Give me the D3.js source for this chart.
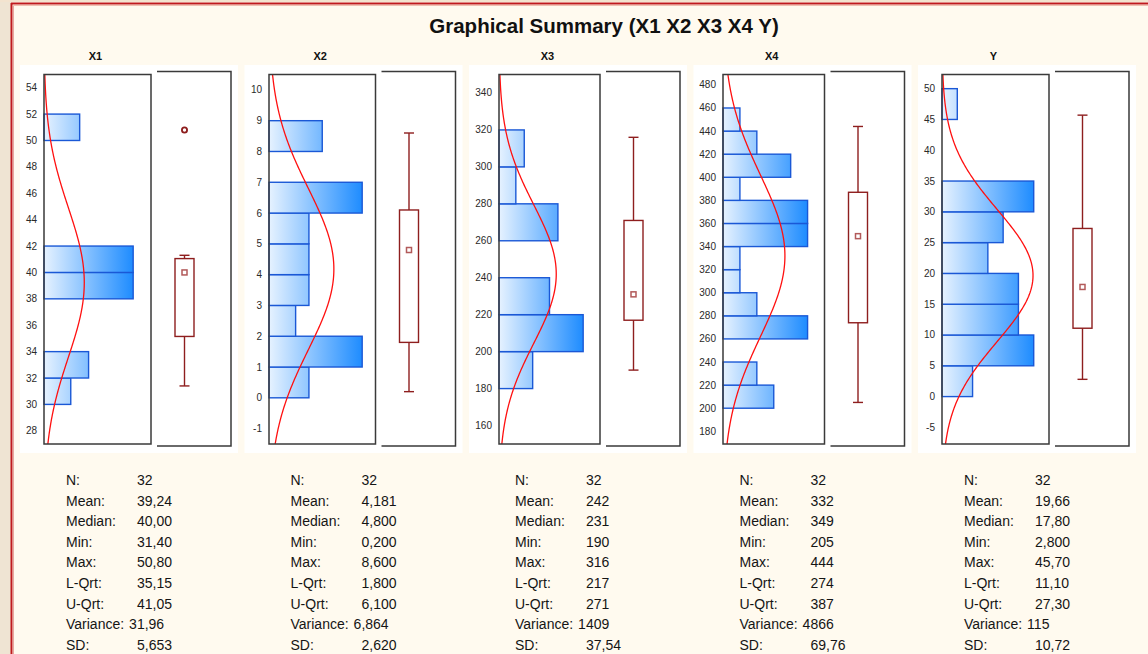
<!DOCTYPE html>
<html>
<head>
<meta charset="utf-8">
<script src="https://cdn.jsdelivr.net/npm/d3@7"></script>
<style>
  body { margin: 0; background: #fffaef; }
  svg { display: block; font-family: "Liberation Sans", Arial, sans-serif; }
  .ticklabel { font-size: 10px; fill: #2a2a2a; }
  .paneltitle { font-size: 11px; font-weight: bold; fill: #111; }
  .stat { font-size: 14px; fill: #151515; }
</style>
</head>
<body>
<svg class="summarysvg" width="1148" height="654"></svg>
<script>
// data
var variables = ["X1", "X2", "X3", "X4", "Y"];

var binWidths = [2, 1, 20, 20, 5];
var binStartsX1 = [30, 32, 38, 40, 50];
var binCountsX1 = [3, 5, 10, 10, 4];
var binStartsX2 = [0, 1, 2, 3, 4, 5, 6, 8];
var binCountsX2 = [3, 7, 2, 3, 3, 3, 7, 4];
var binStartsX3 = [180, 200, 220, 260, 280, 300];
var binCountsX3 = [4, 10, 6, 7, 2, 3];
var binStartsX4 = [200, 220, 260, 280, 300, 320, 340, 360, 380, 400, 420, 440];
var binCountsX4 = [3, 2, 5, 2, 1, 1, 5, 5, 1, 4, 2, 1];
var binStartsY = [0, 5, 10, 15, 20, 25, 30, 45];
var binCountsY = [2, 6, 5, 5, 3, 4, 6, 1];

var yDomains = [[27, 55], [-1.5, 10.5], [150, 350], [169, 489], [-7.7, 52.3]];
var ticksX1 = [28, 30, 32, 34, 36, 38, 40, 42, 44, 46, 48, 50, 52, 54];
var ticksX2 = [-1, 0, 1, 2, 3, 4, 5, 6, 7, 8, 9, 10];
var ticksX3 = [160, 180, 200, 220, 240, 260, 280, 300, 320, 340];
var ticksX4 = [180, 200, 220, 240, 260, 280, 300, 320, 340, 360, 380, 400, 420, 440, 460, 480];
var ticksY = [-5, 0, 5, 10, 15, 20, 25, 30, 35, 40, 45, 50];

var counts = [32, 32, 32, 32, 32];
var means = [39.24, 4.181, 242, 332, 19.66];
var sds = [5.653, 2.620, 37.54, 69.76, 10.72];
var medians = [40.00, 4.800, 231, 349, 17.80];
var lowerQrt = [35.15, 1.800, 217, 274, 11.10];
var upperQrt = [41.05, 6.100, 271, 387, 27.30];
var whiskerLow = [31.40, 0.200, 190, 205, 2.800];
var whiskerHigh = [41.30, 8.600, 316, 444, 45.70];
var outliers = [[50.8], [], [], [], []];

var statLabels = ["N:", "Mean:", "Median:", "Min:", "Max:", "L-Qrt:", "U-Qrt:", "Variance:", "SD:"];
var statsX1 = ["32", "39,24", "40,00", "31,40", "50,80", "35,15", "41,05", "31,96", "5,653"];
var statsX2 = ["32", "4,181", "4,800", "0,200", "8,600", "1,800", "6,100", "6,864", "2,620"];
var statsX3 = ["32", "242", "231", "190", "316", "217", "271", "1409", "37,54"];
var statsX4 = ["32", "332", "349", "205", "444", "274", "387", "4866", "69,76"];
var statsY = ["32", "19,66", "17,80", "2,800", "45,70", "11,10", "27,30", "115", "10,72"];

var binStarts = [binStartsX1, binStartsX2, binStartsX3, binStartsX4, binStartsY];
var binCounts = [binCountsX1, binCountsX2, binCountsX3, binCountsX4, binCountsY];
var tickValues = [ticksX1, ticksX2, ticksX3, ticksX4, ticksY];
var statValues = [statsX1, statsX2, statsX3, statsX4, statsY];

var svg = d3.select(".summarysvg");
var defs = svg.append("defs");

function addframe()
{
	// textured strip and double red border
	svg.append("rect").attr("x", 0).attr("y", 0).attr("width", 11).attr("height", 654).attr("fill", "#efe4d3");
	svg.append("rect").attr("x", 0).attr("y", 0).attr("width", 1148).attr("height", 2).attr("fill", "#f3e3cf");
	svg.append("line").attr("x1", 11.5).attr("y1", 3).attr("x2", 11.5).attr("y2", 654)
	   .attr("stroke", "#c01a1e").attr("stroke-width", 2);
	svg.append("line").attr("x1", 11).attr("y1", 3.5).attr("x2", 1148).attr("y2", 3.5)
	   .attr("stroke", "#c01a1e").attr("stroke-width", 2);
	svg.append("line").attr("x1", 13.5).attr("y1", 5).attr("x2", 13.5).attr("y2", 654)
	   .attr("stroke", "#e8a8a0").attr("stroke-width", 1);
	svg.append("line").attr("x1", 13).attr("y1", 5.5).attr("x2", 1148).attr("y2", 5.5)
	   .attr("stroke", "#f0c0b0").attr("stroke-width", 1);

	svg.append("text")
	   .attr("x", 604)
	   .attr("y", 33)
	   .style("text-anchor", "middle")
	   .style("font-size", "20.5px")
	   .style("font-weight", "bold")
	   .attr("fill", "#111")
	   .text("Graphical Summary (X1 X2 X3 X4 Y)");
}

function addpanel(i)
{
	var x0 = 20 + i * 224.5;
	var top = 74.5, bottom = 444;
	var g = svg.append("g").attr("class", "panel");

	g.append("rect")
	   .attr("x", x0).attr("y", 65)
	   .attr("width", 218).attr("height", 388)
	   .attr("fill", "#ffffff");

	var y = d3.scaleLinear().domain(yDomains[i]).range([bottom, top]);

	// tick labels, right aligned; histogram frame starts after the widest
	var ticks = g.append("g");
	ticks.selectAll("text")
	   .data(tickValues[i])
	   .enter().append("text")
	   .attr("class", "ticklabel")
	   .attr("y", function(d) { return y(d); })
	   .attr("dy", "0.35em")
	   .style("text-anchor", "end")
	   .text(function(d) { return d; });
	var widest = 0;
	ticks.selectAll("text").each(function() { widest = Math.max(widest, this.getComputedTextLength()); });
	var left = Math.round(x0 + 13 + widest);
	var right = x0 + 131;
	ticks.selectAll("text").attr("x", left - 7);

	g.append("text")
	   .attr("class", "paneltitle")
	   .attr("x", (left + right) / 2 - 2)
	   .attr("y", 60)
	   .style("text-anchor", "middle")
	   .text(variables[i]);

	var maxCount = d3.max(binCounts[i]);
	var x = d3.scaleLinear().domain([0, maxCount * 1.1]).nice(5).range([left, right]);

	var grad = defs.append("linearGradient")
	   .attr("id", "bargrad" + i)
	   .attr("gradientUnits", "userSpaceOnUse")
	   .attr("x1", left).attr("y1", 0)
	   .attr("x2", x(maxCount)).attr("y2", 0);
	grad.append("stop").attr("offset", "0%").attr("stop-color", "#e6f2ff");
	grad.append("stop").attr("offset", "100%").attr("stop-color", "#1e8cff");

	var w = binWidths[i];
	g.selectAll(".bar")
	   .data(binStarts[i].map(function(s, k) { return {start: s, count: binCounts[i][k]}; }))
	   .enter().append("rect")
	   .attr("class", "bar")
	   .attr("x", left)
	   .attr("y", function(d) { return y(d.start + w); })
	   .attr("width", function(d) { return x(d.count) - left; })
	   .attr("height", function(d) { return y(d.start) - y(d.start + w); })
	   .attr("fill", "url(#bargrad" + i + ")")
	   .attr("stroke", "#1a58d6")
	   .attr("stroke-width", 1.4);

	// fitted normal curve, in count-per-bin units
	var n = counts[i], m = means[i], s = sds[i];
	var pts = d3.range(0, 201).map(function(k) {
		var v = yDomains[i][0] + (yDomains[i][1] - yDomains[i][0]) * k / 200;
		var z = (v - m) / s;
		return [v, n * w * Math.exp(-0.5 * z * z) / (s * Math.sqrt(2 * Math.PI))];
	});
	g.append("path")
	   .datum(pts)
	   .attr("fill", "none")
	   .attr("stroke", "#ff1010")
	   .attr("stroke-width", 1.3)
	   .attr("d", d3.line().x(function(d) { return x(d[1]); }).y(function(d) { return y(d[0]); }));

	g.append("rect")
	   .attr("x", left).attr("y", top)
	   .attr("width", right - left).attr("height", bottom - top)
	   .attr("fill", "none")
	   .attr("stroke", "#3a3a3a")
	   .attr("stroke-width", 1.5);

	// box plot frame: top, right, bottom only
	var bl = x0 + 137, br = x0 + 211;
	g.append("path")
	   .attr("d", "M" + bl + ",71.5H" + br + "V446H" + bl)
	   .attr("fill", "none")
	   .attr("stroke", "#3a3a3a")
	   .attr("stroke-width", 1.5);

	var cx = bl + 27.5;
	var boxcol = "#8e1e1e";
	g.append("line")
	   .attr("x1", cx).attr("x2", cx)
	   .attr("y1", y(whiskerLow[i])).attr("y2", y(whiskerHigh[i]))
	   .attr("stroke", boxcol).attr("stroke-width", 1.4);
	[whiskerLow[i], whiskerHigh[i]].forEach(function(v) {
		g.append("line")
		   .attr("x1", cx - 5).attr("x2", cx + 5)
		   .attr("y1", y(v)).attr("y2", y(v))
		   .attr("stroke", boxcol).attr("stroke-width", 1.4);
	});
	g.append("rect")
	   .attr("x", cx - 9.5).attr("y", y(upperQrt[i]))
	   .attr("width", 19).attr("height", y(lowerQrt[i]) - y(upperQrt[i]))
	   .attr("fill", "#ffffff")
	   .attr("stroke", boxcol).attr("stroke-width", 1.4);
	g.append("rect")
	   .attr("x", cx - 2.5).attr("y", y(medians[i]) - 2.5)
	   .attr("width", 5).attr("height", 5)
	   .attr("fill", "#ffffff")
	   .attr("stroke", "#b25a5a").attr("stroke-width", 1.5);
	g.selectAll(".outlier")
	   .data(outliers[i])
	   .enter().append("circle")
	   .attr("class", "outlier")
	   .attr("cx", cx).attr("cy", function(d) { return y(d); })
	   .attr("r", 2.6)
	   .attr("fill", "#ffffff")
	   .attr("stroke", boxcol).attr("stroke-width", 1.8);

	// summary statistics
	var stats = g.append("g").attr("class", "stats");
	statLabels.forEach(function(lab, k) {
		var ty = 485 + k * 20.6;
		var t = stats.append("text")
		   .attr("class", "stat")
		   .attr("x", x0 + 46)
		   .attr("y", ty)
		   .text(lab);
		var vx = x0 + 117;
		if(lab == "Variance:")
			vx = x0 + 46 + t.node().getComputedTextLength() + 5;
		stats.append("text")
		   .attr("class", "stat")
		   .attr("x", vx)
		   .attr("y", ty)
		   .text(statValues[i][k]);
	});
}

addframe();
for(var i = 0; i < variables.length; i++)
	addpanel(i);
</script>
</body>
</html>
